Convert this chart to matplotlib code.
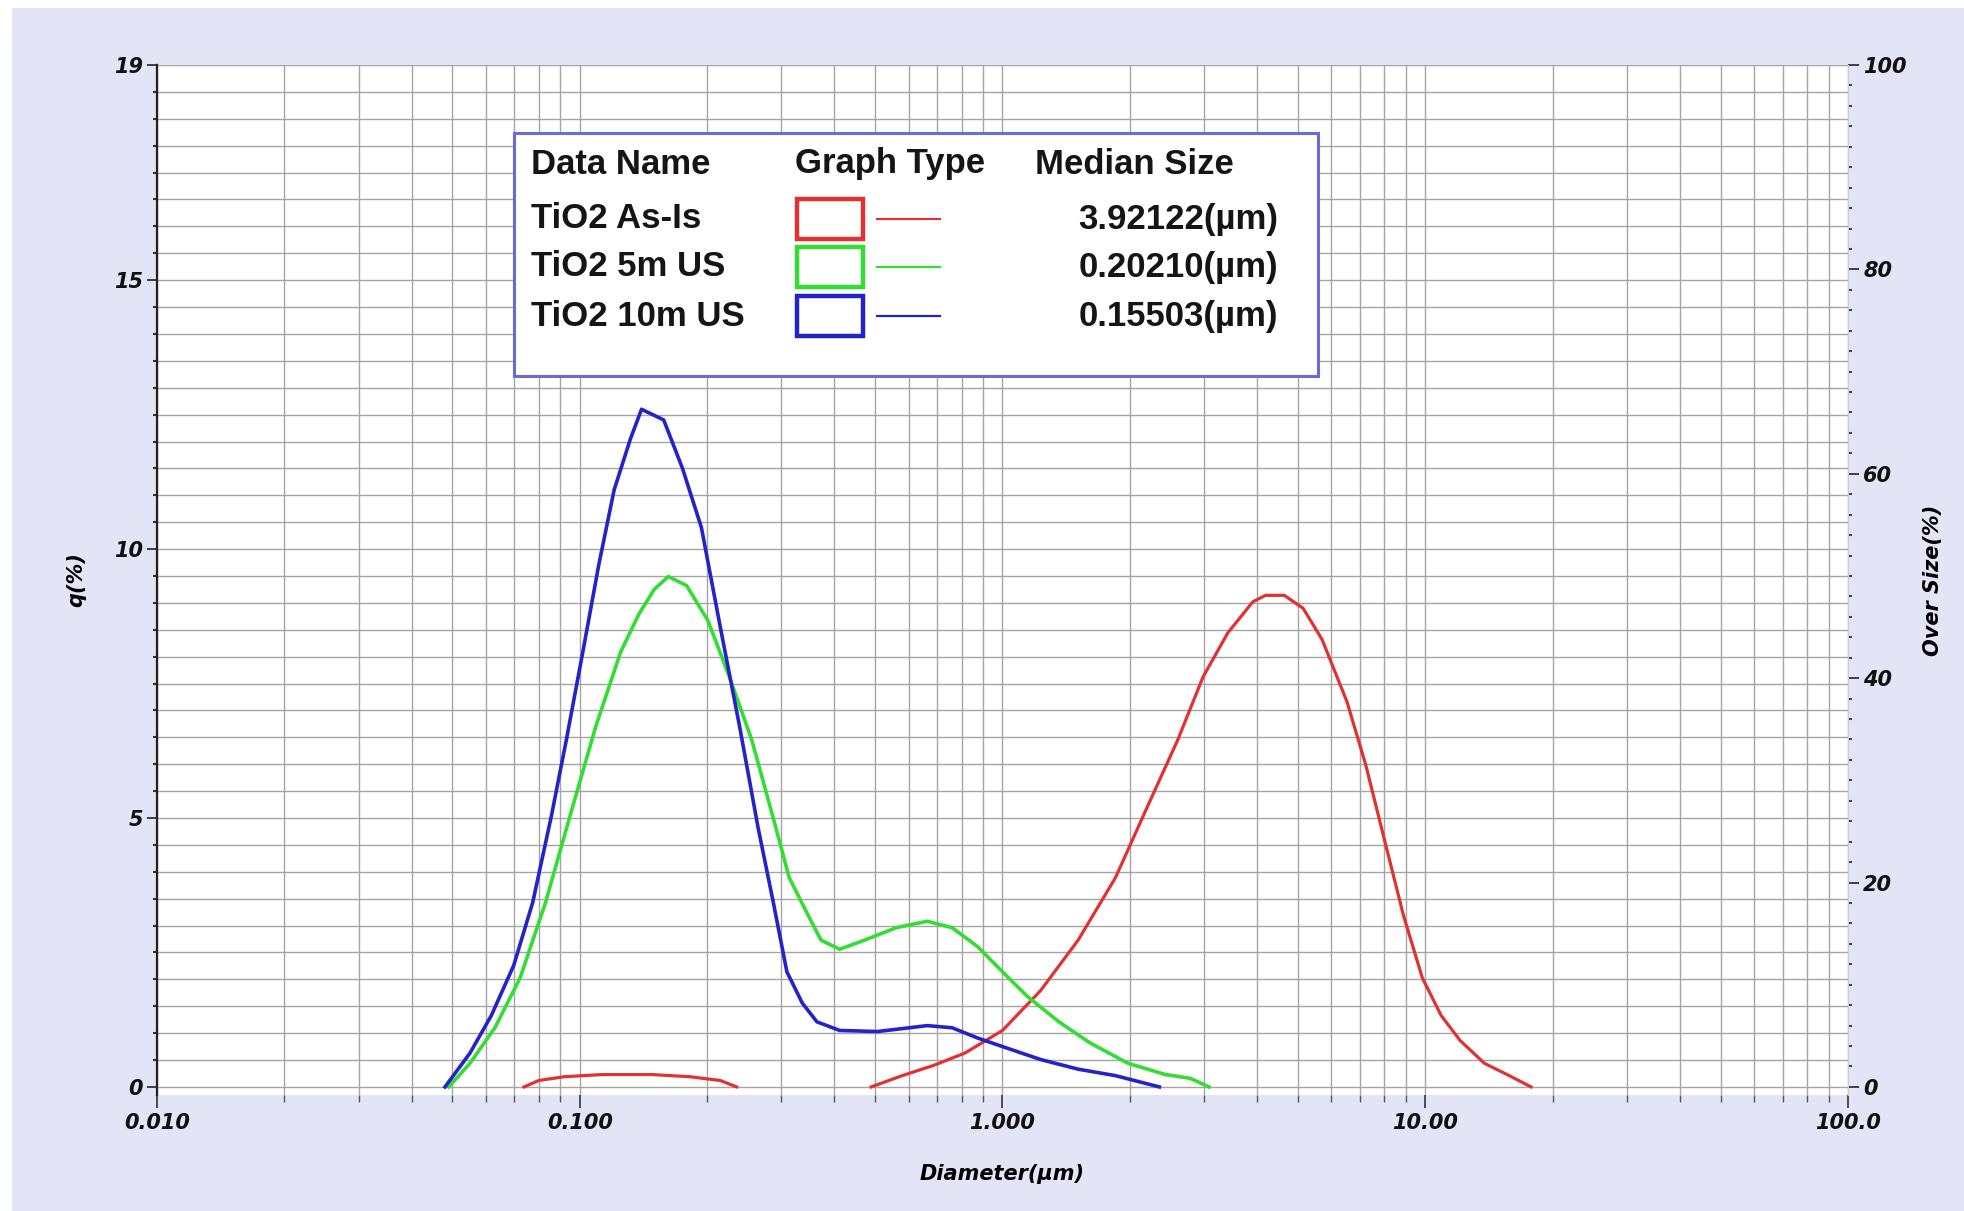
#%%
# 粒徑分布圖 (q% vs Diameter) 重現
import numpy as np
import matplotlib
matplotlib.use('Agg')
import matplotlib.pyplot as plt
from matplotlib.patches import Rectangle
from matplotlib.lines import Line2D
from matplotlib.ticker import MultipleLocator, LogLocator, NullFormatter

# %% 資料
asis_d = [0.0738, 0.080, 0.092, 0.113, 0.148, 0.182, 0.215, 0.235, np.nan,
          0.489, 0.579, 0.687, 0.815, 1.0, 1.23, 1.51, 1.85, 2.19, 2.60, 2.98,
          3.41, 3.91, 4.19, 4.64, 5.14, 5.70, 6.53, 7.23, 8.01, 8.88, 9.84,
          10.9, 12.1, 13.8, 15.8, 17.8]
asis_q = [0.0, 0.12, 0.19, 0.23, 0.23, 0.19, 0.12, 0.0, np.nan,
          0.0, 0.21, 0.40, 0.63, 1.05, 1.79, 2.73, 3.89, 5.17, 6.46, 7.62,
          8.44, 9.02, 9.14, 9.14, 8.90, 8.32, 7.16, 5.99, 4.59, 3.19, 2.03,
          1.33, 0.86, 0.44, 0.21, 0.0]

us5_d = [0.049, 0.055, 0.063, 0.0723, 0.083, 0.095, 0.109, 0.125, 0.138,
         0.150, 0.162, 0.179, 0.201, 0.226, 0.255, 0.283, 0.313, 0.347,
         0.372, 0.412, 0.472, 0.560, 0.664, 0.760, 0.873, 1.0, 1.146, 1.36,
         1.61, 1.98, 2.43, 2.78, 3.08]
us5_q = [0.0, 0.44, 1.10, 2.03, 3.43, 5.06, 6.69, 8.09, 8.79,
         9.25, 9.49, 9.32, 8.67, 7.62, 6.46, 5.17, 3.89, 3.19,
         2.73, 2.56, 2.73, 2.96, 3.08, 2.96, 2.61, 2.14, 1.68, 1.21,
         0.82, 0.44, 0.23, 0.16, 0.0]

us10_d = [0.048, 0.055, 0.0618, 0.0698, 0.0774, 0.0858, 0.093, 0.1017,
          0.111, 0.1206, 0.1318, 0.140, 0.158, 0.175, 0.194, 0.215, 0.239,
          0.264, 0.287, 0.309, 0.336, 0.364, 0.412, 0.506, 0.664, 0.760,
          0.873, 1.0, 1.23, 1.51, 1.85, 2.35]
us10_q = [0.0, 0.63, 1.33, 2.26, 3.43, 5.06, 6.46, 8.09,
          9.72, 11.1, 12.05, 12.6, 12.4, 11.5, 10.4, 8.55, 6.69,
          4.83, 3.43, 2.14, 1.56, 1.21, 1.05, 1.03, 1.14, 1.10,
          0.91, 0.75, 0.51, 0.33, 0.21, 0.0]

series_names = ['TiO2 As-Is', 'TiO2 5m US', 'TiO2 10m US']
median_sizes = ['3.92122(µm)', '0.20210(µm)', '0.15503(µm)']
series_colors = ['#e03232', '#33dd33', '#2323c8']

x_ticks = [0.01, 0.1, 1, 10, 100]
x_tick_labels = ['0.010', '0.100', '1.000', '10.00', '100.0']
y_ticks = [0, 5, 10, 15, 19]
y2_ticks = [0, 20, 40, 60, 80, 100]

# %% 畫布
W, H = 1965, 1211
fig = plt.figure(figsize=(W / 100, H / 100), dpi=100, facecolor='white')
fig.patches.append(Rectangle((12 / W, 0), 1, 1 - 8 / H, transform=fig.transFigure,
                             facecolor='#e4e4f7', edgecolor='none', zorder=-10))

ax = fig.add_axes([157 / W, 1 - 1095 / H, (1848 - 157) / W, (1095 - 65) / H])
ax.set_facecolor('white')
ax.set_xscale('log')
ax.set_xlim(0.01, 100)
ymin = -0.15
ax.set_ylim(ymin, 19)

tick_font = dict(family='DejaVu Sans', weight='bold', style='italic', size=15)

ax.set_xticks(x_ticks)
ax.set_xticklabels(x_tick_labels, fontdict=tick_font)
ax.xaxis.set_minor_locator(LogLocator(base=10, subs=np.arange(2, 10)))
ax.xaxis.set_minor_formatter(NullFormatter())
ax.set_yticks(y_ticks)
ax.set_yticklabels([str(t) for t in y_ticks], fontdict=tick_font)
ax.yaxis.set_minor_locator(MultipleLocator(0.5))

ax.grid(which='both', axis='both', color='#a4a4a4', lw=1.0)
ax.set_axisbelow(True)

ax.tick_params(axis='x', which='major', length=9, width=1.2, pad=4, colors='#333333')
ax.tick_params(axis='x', which='minor', length=5, width=1.0, colors='#555555')
ax.tick_params(axis='y', which='major', length=7, width=1.2, pad=3, colors='#222222')
ax.tick_params(axis='y', which='minor', length=3, width=1.5, colors='#333333')
ax.tick_params(labelcolor='#111111')

for s in ['top', 'bottom', 'right']:
    ax.spines[s].set_visible(False)
ax.spines['left'].set_color('#222222')
ax.spines['left'].set_linewidth(1.6)

ax.set_xlabel('Diameter(µm)', fontdict=tick_font, labelpad=22)
ax.set_ylabel('q(%)', fontdict=tick_font, labelpad=20)

# 右側 Over Size 軸
ax2 = ax.twinx()
ax2.set_ylim(ymin / 19 * 100, 100)
ax2.set_yticks(y2_ticks)
ax2.set_yticklabels([str(t) for t in y2_ticks], fontdict=tick_font)
ax2.yaxis.set_minor_locator(MultipleLocator(2))
ax2.tick_params(axis='y', which='major', length=8, width=1.2, pad=3, colors='#222222',
                labelcolor='#111111')
ax2.tick_params(axis='y', which='minor', length=3, width=1.5, colors='#444444')
for s in ['top', 'bottom', 'left']:
    ax2.spines[s].set_visible(False)
ax2.spines['right'].set_color('#cccccc')
ax2.set_ylabel('Over Size(%)', fontdict=tick_font, rotation=90, labelpad=12)

# %% 曲線
ax.plot(asis_d, asis_q, color=series_colors[0], lw=2.3, zorder=5)
ax.plot(us5_d, us5_q, color=series_colors[1], lw=2.6, zorder=5)
ax.plot(us10_d, us10_q, color=series_colors[2], lw=2.6, zorder=6)

# %% 圖例方框 (手動)
box_l, box_t, box_r, box_b = 514, 133, 1318, 376
fig.patches.append(Rectangle((box_l / W, 1 - box_b / H), (box_r - box_l) / W,
                             (box_b - box_t) / H, transform=fig.transFigure,
                             facecolor='white', edgecolor='#6a6ad8', lw=2.2, zorder=20))

leg_font = dict(family='Liberation Sans', weight='bold', size=25, color='#151515')
fy = lambda py: 1 - py / H
fig.text(531 / W, fy(164), 'Data Name', va='center', ha='left', zorder=21, **leg_font)
fig.text(795 / W, fy(164), 'Graph Type', va='center', ha='left', zorder=21, **leg_font)
fig.text(1035 / W, fy(164), 'Median Size', va='center', ha='left', zorder=21, **leg_font)

row_y = [219, 267, 316]
for name, med, col, py in zip(series_names, median_sizes, series_colors, row_y):
    fig.text(531 / W, fy(py), name, va='center', ha='left', zorder=21, **leg_font)
    fig.text(1278 / W, fy(py), med, va='center', ha='right', zorder=21, **leg_font)
    fig.patches.append(Rectangle((797 / W, fy(py + 20)), 66 / W, 40 / H,
                                 transform=fig.transFigure, facecolor='white',
                                 edgecolor=col, lw=3.2, zorder=21))
    fig.lines.append(Line2D([877 / W, 940 / W], [fy(py), fy(py)], transform=fig.transFigure,
                            color=col, lw=1.6, zorder=21))

fig.savefig('out.png', dpi=100)
